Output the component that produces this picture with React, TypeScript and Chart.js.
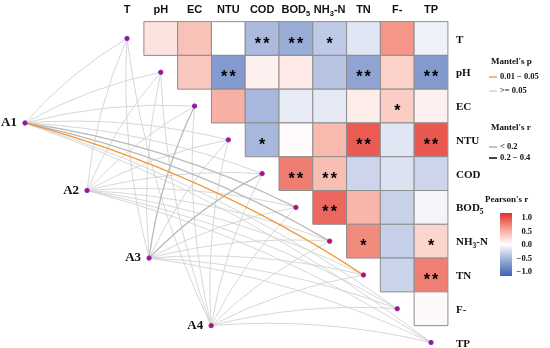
import React, { useEffect, useRef } from "react";
import { Chart, registerables } from "chart.js";

Chart.register(...registerables);

// ---------- data ----------
const variables = ["T", "pH", "EC", "NTU", "COD", "BOD5", "NH3-N", "TN", "F-", "TP"];
const groups = ["A1", "A2", "A3", "A4"];

// Pearson's r, upper triangle: row variable vs the variables that follow it
const corT = [0.15, 0.33, 0.0, -0.41, -0.49, -0.32, -0.15, 0.55, -0.08];
const corPH = [0.3, -0.62, 0.08, 0.12, -0.35, -0.55, 0.25, -0.62];
const corEC = [0.42, -0.42, -0.12, -0.13, 0.1, 0.27, 0.08];
const corNTU = [-0.42, 0.02, 0.37, 0.8, -0.15, 0.82];
const corCOD = [0.66, 0.35, -0.25, -0.17, -0.25];
const corBOD5 = [0.75, 0.4, -0.27, -0.06];
const corNH3N = [0.6, -0.28, 0.22];
const corTN = [-0.26, 0.65];
const corF = [0.03];

// significance marks
const sigT = ["", "", "", "**", "**", "*", "", "", ""];
const sigPH = ["", "**", "", "", "", "**", "", "**"];
const sigEC = ["", "", "", "", "", "*", ""];
const sigNTU = ["*", "", "", "**", "", "**"];
const sigCOD = ["**", "**", "", "", ""];
const sigBOD5 = ["**", "", "", ""];
const sigNH3N = ["*", "", "*"];
const sigTN = ["", "**"];
const sigF = [""];

// Mantel test (r, p) of each group against each variable
const mantelR_A1 = [0.08, 0.1, 0.09, 0.12, 0.15, 0.23, 0.24, 0.26, 0.13, 0.14];
const mantelP_A1 = [0.62, 0.41, 0.5, 0.28, 0.19, 0.08, 0.07, 0.03, 0.3, 0.26];
const mantelR_A2 = [0.05, 0.07, 0.1, 0.09, 0.11, 0.08, 0.12, 0.1, 0.06, 0.09];
const mantelP_A2 = [0.8, 0.7, 0.5, 0.55, 0.4, 0.6, 0.35, 0.45, 0.75, 0.6];
const mantelR_A3 = [0.06, 0.08, 0.21, 0.1, 0.23, 0.09, 0.07, 0.11, 0.05, 0.08];
const mantelP_A3 = [0.7, 0.6, 0.09, 0.5, 0.07, 0.55, 0.65, 0.4, 0.8, 0.6];
const mantelR_A4 = [0.07, 0.09, 0.12, 0.08, 0.1, 0.06, 0.11, 0.09, 0.07, 0.1];
const mantelP_A4 = [0.65, 0.55, 0.3, 0.6, 0.45, 0.7, 0.4, 0.5, 0.66, 0.48];

const legendPTitle = "Mantel's p";
const legendPLabels = ["0.01 \u2212 0.05", ">= 0.05"];
const legendRTitle = "Mantel's r";
const legendRLabels = ["< 0.2", "0.2 \u2212 0.4"];
const colorbarTitle = "Pearson's r";
const colorbarTicks = [1.0, 0.5, 0.0, -0.5, -1.0];

const corRows = [corT, corPH, corEC, corNTU, corCOD, corBOD5, corNH3N, corTN, corF];
const sigRows = [sigT, sigPH, sigEC, sigNTU, sigCOD, sigBOD5, sigNH3N, sigTN, sigF];
const mantelR = [mantelR_A1, mantelR_A2, mantelR_A3, mantelR_A4];
const mantelP = [mantelP_A1, mantelP_A2, mantelP_A3, mantelP_A4];

// ---------- layout / style ----------
const W = 550;
const H = 348;
const UNIT = 33.78;
const ORIGIN_X = 127;
const ORIGIN_Y = 38.5;
const GROUP_START = { x: -3.02, y: 2.5 };
const GROUP_STEP = { x: 1.837, y: 2.0 };
const CURVATURE = 0.08;

const SANS = "'Liberation Sans', Arial, sans-serif";
const SERIF = "'Liberation Serif', 'Times New Roman', serif";
const ORANGE = "#f4952f";
const THIN_GREY = "#d0d0d0";
const THICK_GREY = "#b9b9b9";

const STOPS: [number, number[]][] = [
  [-1, [62, 100, 178]],
  [-0.5, [152, 171, 214]],
  [0, [255, 255, 255]],
  [0.5, [246, 162, 147]],
  [1, [226, 46, 40]],
];

function corColor(v: number): string {
  const t = Math.max(-1, Math.min(1, v));
  for (let i = 0; i < STOPS.length - 1; i++) {
    const [a, ca] = STOPS[i];
    const [b, cb] = STOPS[i + 1];
    if (t >= a && t <= b) {
      const f = (t - a) / (b - a);
      const c = ca.map((x, k) => Math.round(x + (cb[k] - x) * f));
      return `rgb(${c[0]},${c[1]},${c[2]})`;
    }
  }
  return "#fff";
}

function richParts(t: string) {
  const parts: { t: string; sub: boolean }[] = [];
  let cur = "";
  let sub = false;
  for (const ch of t) {
    const isD = /[0-9]/.test(ch);
    if (isD !== sub && cur) {
      parts.push({ t: cur, sub });
      cur = "";
    }
    sub = isD;
    cur += ch;
  }
  if (cur) parts.push({ t: cur, sub });
  return parts;
}

function drawRich(ctx: CanvasRenderingContext2D, text: string, x: number, y: number, size: number, family: string, align: string) {
  const parts = richParts(text);
  const fontFor = (sub: boolean) => `bold ${sub ? size * 0.68 : size}px ${family}`;
  let w = 0;
  parts.forEach((p) => {
    ctx.font = fontFor(p.sub);
    w += ctx.measureText(p.t).width;
  });
  let cx = align === "center" ? x - w / 2 : align === "right" ? x - w : x;
  ctx.textAlign = "left";
  ctx.textBaseline = "alphabetic";
  parts.forEach((p) => {
    ctx.font = fontFor(p.sub);
    ctx.fillText(p.t, cx, y + (p.sub ? size * 0.25 : 0));
    cx += ctx.measureText(p.t).width;
  });
}

const groupPos = (gi: number) => ({ x: GROUP_START.x + GROUP_STEP.x * gi, y: GROUP_START.y + GROUP_STEP.y * gi });

const decorPlugin = {
  id: "decor",
  beforeDatasetsDraw(chart: any) {
    const { ctx } = chart;
    const sx = chart.scales.x;
    const sy = chart.scales.y;
    const links: { gi: number; vi: number; r: number; p: number }[] = [];
    groups.forEach((_, gi) =>
      variables.forEach((_, vi) => links.push({ gi, vi, r: mantelR[gi][vi], p: mantelP[gi][vi] }))
    );
    const rank = (l: any) => (l.p < 0.05 ? 2 : l.r >= 0.2 ? 1 : 0);
    links.sort((a, b) => rank(a) - rank(b));
    ctx.save();
    links.forEach((l) => {
      const g = groupPos(l.gi);
      const x0 = sx.getPixelForValue(g.x);
      const y0 = sy.getPixelForValue(g.y);
      const x1 = sx.getPixelForValue(l.vi);
      const y1 = sy.getPixelForValue(l.vi);
      const dx = x1 - x0;
      const dy = y1 - y0;
      const cx = (x0 + x1) / 2 + CURVATURE * dy;
      const cy = (y0 + y1) / 2 - CURVATURE * dx;
      ctx.beginPath();
      ctx.moveTo(x0, y0);
      ctx.quadraticCurveTo(cx, cy, x1, y1);
      ctx.strokeStyle = l.p < 0.05 ? ORANGE : l.r >= 0.2 ? THICK_GREY : THIN_GREY;
      ctx.lineWidth = l.r >= 0.2 ? 1.3 : 0.85;
      ctx.stroke();
    });
    ctx.restore();
  },
  afterDatasetsDraw(chart: any) {
    const { ctx } = chart;
    const sx = chart.scales.x;
    const sy = chart.scales.y;
    ctx.save();
    // stars
    ctx.fillStyle = "#000";
    ctx.font = `bold 16px ${SANS}`;
    ctx.textAlign = "center";
    ctx.textBaseline = "alphabetic";
    sigRows.forEach((row, i) =>
      row.forEach((s, k) => {
        if (!s) return;
        const cx = sx.getPixelForValue(i + 1 + k);
        const cy = sy.getPixelForValue(i);
        const n = s.length;
        for (let j = 0; j < n; j++) {
          const off = (j - (n - 1) / 2) * 8.4;
          ctx.fillText("*", cx + off, cy + 10);
        }
      })
    );
    // column labels (top)
    ctx.fillStyle = "#111";
    variables.forEach((v, i) => {
      drawRich(ctx, v, sx.getPixelForValue(i), 13, 11, SANS, "center");
    });
    // row labels (right)
    variables.forEach((v, i) => {
      drawRich(ctx, v, 456, sy.getPixelForValue(i) + 4, 11, SERIF, "left");
    });
    // group labels
    ctx.font = `bold 13px ${SERIF}`;
    ctx.textAlign = "right";
    ctx.textBaseline = "alphabetic";
    groups.forEach((g, gi) => {
      const p = groupPos(gi);
      ctx.fillText(g, sx.getPixelForValue(p.x) - 8, sy.getPixelForValue(p.y) + 3);
    });

    // legends
    ctx.fillStyle = "#111";
    ctx.textAlign = "left";
    ctx.textBaseline = "middle";
    ctx.font = `bold 9px ${SERIF}`;
    ctx.fillText(legendPTitle, 491, 62);
    ctx.font = `bold 8.5px ${SERIF}`;
    const pColors = [ORANGE, THIN_GREY];
    legendPLabels.forEach((t, i) => {
      const yy = 77 + i * 14;
      ctx.strokeStyle = pColors[i];
      ctx.lineWidth = 1.4;
      ctx.beginPath();
      ctx.moveTo(489, yy);
      ctx.lineTo(497, yy);
      ctx.stroke();
      ctx.fillText(t, 500, yy);
    });
    ctx.font = `bold 9px ${SERIF}`;
    ctx.fillText(legendRTitle, 491, 128);
    ctx.font = `bold 8.5px ${SERIF}`;
    const rWidths = [0.9, 2];
    const rColors = ["#777", "#444"];
    legendRLabels.forEach((t, i) => {
      const yy = 147 + i * 11;
      ctx.strokeStyle = rColors[i];
      ctx.lineWidth = rWidths[i];
      ctx.beginPath();
      ctx.moveTo(489, yy);
      ctx.lineTo(497, yy);
      ctx.stroke();
      ctx.fillText(t, 500, yy);
    });
    // colorbar
    ctx.font = `bold 9px ${SERIF}`;
    ctx.fillText(colorbarTitle, 485, 200);
    const top = 213;
    const bot = 276;
    const grad = ctx.createLinearGradient(0, top, 0, bot);
    for (let k = 0; k <= 20; k++) {
      const v = 1 - k / 10;
      grad.addColorStop(k / 20, corColor(v));
    }
    ctx.fillStyle = grad;
    ctx.fillRect(500, top, 12, bot - top);
    ctx.fillStyle = "#111";
    ctx.font = `bold 8.5px ${SERIF}`;
    ctx.textAlign = "right";
    const t0 = 218;
    const t1 = 272;
    colorbarTicks.forEach((v) => {
      const yy = t0 + ((1 - v) / 2) * (t1 - t0);
      const label = (v < 0 ? "\u2212" : "") + Math.abs(v).toFixed(1);
      ctx.fillText(label, 532, yy);
    });
    ctx.restore();
  },
};

export default function App() {
  const ref = useRef<HTMLCanvasElement | null>(null);
  useEffect(() => {
    document.body.style.margin = "0";
    const canvas = ref.current;
    if (!canvas) return;
    const cells: any[] = [];
    corRows.forEach((row, i) => row.forEach((v, k) => cells.push({ x: i + 1 + k, y: i, v })));
    const nodes: any[] = variables.map((_, i) => ({ x: i, y: i }));
    groups.forEach((_, gi) => nodes.push(groupPos(gi)));
    const unitPx = (c: any) => {
      const s = c.chart.scales.x;
      return Math.abs(s.getPixelForValue(1) - s.getPixelForValue(0));
    };
    const chart = new Chart(canvas, {
      type: "scatter",
      data: {
        datasets: [
          {
            data: cells,
            pointStyle: "rect",
            pointRadius: (c: any) => unitPx(c) / Math.SQRT2,
            pointHoverRadius: (c: any) => unitPx(c) / Math.SQRT2,
            backgroundColor: (c: any) => corColor(c.raw ? c.raw.v : 0),
            borderColor: "#8e8e8e",
            borderWidth: 1,
          } as any,
          {
            data: nodes,
            pointStyle: "circle",
            pointRadius: 2.2,
            pointHoverRadius: 2.2,
            backgroundColor: "#e4003a",
            borderColor: "#5b3cf0",
            borderWidth: 1,
          } as any,
        ],
      },
      options: {
        animation: false,
        responsive: false,
        events: [],
        layout: { padding: 0, autoPadding: false },
        plugins: { legend: { display: false }, tooltip: { enabled: false } },
        scales: {
          x: { type: "linear", display: false, min: -ORIGIN_X / UNIT, max: (W - ORIGIN_X) / UNIT },
          y: { type: "linear", display: false, reverse: true, min: -ORIGIN_Y / UNIT, max: (H - ORIGIN_Y) / UNIT },
        },
      } as any,
      plugins: [decorPlugin],
    });
    return () => chart.destroy();
  }, []);
  return (
    <div style={{ width: W, height: H }}>
      <canvas ref={ref} width={W} height={H} style={{ display: "block", width: W, height: H }} />
    </div>
  );
}
